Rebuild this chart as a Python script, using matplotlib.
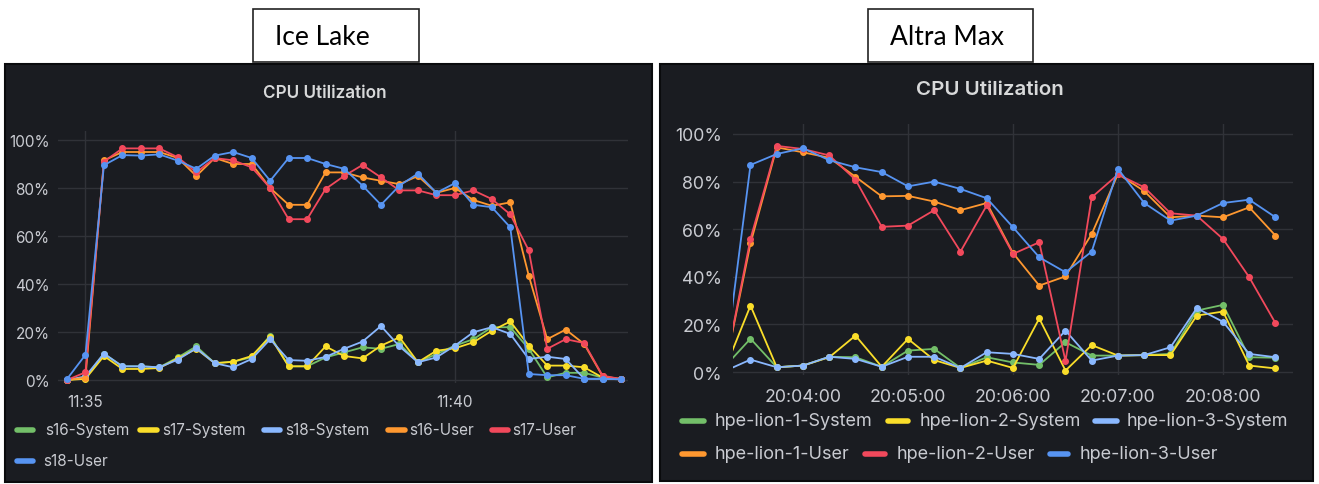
import matplotlib
matplotlib.use("Agg")
import matplotlib.pyplot as plt
import matplotlib.dates as mdates
from matplotlib.patches import Rectangle
from matplotlib.lines import Line2D
import pandas as pd

W, H = 1319, 485

# ---- Ice Lake (15 s samples from 11:34:45) ----
ice_times = pd.date_range("2023-01-01 11:34:45", periods=31, freq="15s")
ice_s16_sys = [0, 1, 11, 5.7, 5.7, 5.3, 9.4, 14, 7, 7.6, 9.5, 18.5, 5.7, 5.7, 9.4, 11.5,
               13.6, 13, 15, 7.4, 10.8, 14.3, 17, 22, 22, 13, 1.1, 3, 3, 1, 0.3]
ice_s17_sys = [0, 0.5, 10, 4.6, 4.6, 5, 9, 13, 7, 7.6, 10, 18, 5.7, 5.7, 14, 10,
               9, 14.3, 17.8, 7.4, 12.2, 13.2, 15.7, 20.5, 24.4, 14.3, 6, 6, 5.3, 1, 0.4]
ice_s18_sys = [0, 1.5, 11, 5.7, 5.7, 5.3, 8.5, 13.2, 7, 5.3, 8.75, 17, 8.3, 8, 9.6, 13,
               16, 22.5, 14, 7.4, 9.4, 14.3, 19.9, 22, 19.2, 8.75, 9.7, 8.75, 0.5, 0.5, 0.3]
ice_s16_usr = [0, 1, 91.5, 95, 95, 95, 92.5, 85, 92.5, 90, 90, 80, 73, 73, 86.5, 86.5,
               84.4, 83, 81.6, 85, 78, 80, 75, 72.6, 74, 43.5, 17, 21, 15, 1.5, 0.4]
ice_s17_usr = [0, 3.2, 91, 96.5, 96.5, 96.5, 92.8, 86.5, 92.5, 91.5, 88.6, 80, 67, 67, 79.6, 85,
               89.6, 84.4, 79, 79, 77, 77, 79, 75.4, 69, 54, 13, 17, 15.4, 1.8, 0.4]
ice_s18_usr = [0.4, 10.5, 89.5, 93.7, 93.5, 94, 91.4, 88, 93.5, 95, 92.5, 83, 92.5, 92.5, 90, 88,
               81, 73, 81, 86, 78, 82, 73, 72, 63.6, 2.5, 2, 2, 0.5, 0.5, 0.3]
ice_names = ["s16-System", "s17-System", "s18-System", "s16-User", "s17-User", "s18-User"]
ice_ticks = ["2023-01-01 11:35", "2023-01-01 11:40"]

# ---- Altra Max (15 s samples from 20:03:15) ----
alt_times = pd.date_range("2023-01-01 20:03:15", periods=22, freq="15s")
alt_l1_sys = [2, 14, 2, 2.7, 6.4, 6.2, 2.2, 9, 9.7, 1.7, 6.2, 4, 3, 12.5, 6.9, 6.9,
              7.1, 7.6, 25.8, 28.2, 6.2, 6]
alt_l2_sys = [0.5, 27.9, 2, 2.7, 6.2, 15.3, 2.2, 13.9, 5, 1.7, 4.8, 1.7, 22.5, 0.6, 11.3, 6.9,
              7.1, 7.1, 23.7, 25.4, 2.7, 1.5]
alt_l3_sys = [0.3, 5.2, 2, 2.7, 6.4, 5.5, 2.2, 6.4, 6.4, 1.7, 8.3, 7.6, 5.5, 17.4, 4.8, 6.9,
              7.1, 10.4, 26.8, 21.1, 7.6, 6.2]
alt_l1_usr = [0, 54, 94.4, 92.3, 90, 82, 73.8, 74, 71.6, 68, 71, 50, 36.3, 40.2, 58, 83.2,
              76, 65, 65.7, 65, 69.2, 57.3]
alt_l2_usr = [0, 56, 95, 93.7, 91, 80.8, 61, 61.5, 68, 50.6, 70, 49.6, 54.5, 4.6, 73.4, 83,
              77.6, 66.7, 65.7, 55.9, 39.8, 20.5]
alt_l3_usr = [1, 87, 91.6, 94, 89, 86, 84, 78, 80, 76.9, 73, 60.8, 48.2, 41.9, 50.6, 85.3,
              71, 63.6, 65.7, 71, 72.4, 65]
alt_names = ["hpe-lion-1-System", "hpe-lion-2-System", "hpe-lion-3-System",
             "hpe-lion-1-User", "hpe-lion-2-User", "hpe-lion-3-User"]
alt_ticks = ["2023-01-01 20:04", "2023-01-01 20:05", "2023-01-01 20:06",
             "2023-01-01 20:07", "2023-01-01 20:08"]

COLORS = ["#73BF69", "#FADE2A", "#8AB8FF", "#FF9830", "#F2495C", "#5794F2"]
PANEL_BG = "#1a1c21"
GRID = "#303238"
TICK = "#c9cbd1"
FONT = "Inter"

fig = plt.figure(figsize=(W / 100, H / 100), dpi=100, facecolor="white")


def fbox(x0, y0, x1, y1):
    # pixel box (top-left origin) -> figure fraction rect
    return [x0 / W, 1 - y1 / H, (x1 - x0) / W, (y1 - y0) / H]


def fx(x):
    return x / W


def fy(y):
    return 1 - y / H


# dark panels
for x0, y0, x1, y1 in [(5, 65, 652, 483), (660, 65, 1313, 482)]:
    l, b, w, h = fbox(x0, y0, x1, y1)
    fig.patches.append(Rectangle((l, b), w, h, transform=fig.transFigure,
                                 facecolor=PANEL_BG, edgecolor="#0a0b0d", lw=1.5, zorder=-5))

# white label boxes
for x0, x1, label, cx in [(253, 419, "Ice Lake", 322), (868, 1033, "Altra Max", 947)]:
    l, b, w, h = fbox(x0, 10, x1, 63)
    fig.patches.append(Rectangle((l, b), w, h, transform=fig.transFigure,
                                 facecolor="white", edgecolor="#222222", lw=1.2, zorder=-4))
    fig.text(fx(cx), fy(38), label, ha="center", va="center", fontsize=19,
             family="Lato", color="black")


def panel(box, times, series, ylim, xlim, ticks, fmt, fs, pad_y, pad_x):
    ax = fig.add_axes(box)
    ax.set_facecolor("none")
    for vals, c in zip(series, COLORS):
        ax.plot(times, vals, color=c, lw=1.3, marker="o", ms=4, zorder=3)
    ax.set_ylim(*ylim)
    ax.set_xlim(mdates.date2num(pd.Timestamp(xlim[0])), mdates.date2num(pd.Timestamp(xlim[1])))
    ax.set_yticks(range(0, 101, 20))
    ax.set_yticklabels([f"{v}%" for v in range(0, 101, 20)])
    ax.set_xticks([mdates.date2num(pd.Timestamp(t)) for t in ticks])
    ax.xaxis.set_major_formatter(mdates.DateFormatter(fmt))
    ax.grid(True, color=GRID, lw=1, zorder=0)
    ax.set_axisbelow(True)
    for s in ax.spines.values():
        s.set_visible(False)
    ax.tick_params(length=0, colors=TICK, labelsize=fs)
    ax.tick_params(axis="y", pad=pad_y)
    ax.tick_params(axis="x", pad=pad_x)
    for t in ax.get_xticklabels() + ax.get_yticklabels():
        t.set_family(FONT)
    return ax


ice_ax = panel(fbox(58, 132, 628, 384), ice_times,
               [ice_s16_sys, ice_s17_sys, ice_s18_sys, ice_s16_usr, ice_s17_usr, ice_s18_usr],
               (-1.25, 103.75), ("2023-01-01 11:34:37.7", "2023-01-01 11:42:20.6"),
               ice_ticks, "%H:%M", 11, 6, 8)
alt_ax = panel(fbox(733, 125, 1293, 376), alt_times,
               [alt_l1_sys, alt_l2_sys, alt_l3_sys, alt_l1_usr, alt_l2_usr, alt_l3_usr],
               (-1.26, 104.2), ("2023-01-01 20:03:20", "2023-01-01 20:08:40"),
               alt_ticks, "%H:%M:%S", 12.8, 8, 9.5)

# panel titles
fig.text(fx(325), fy(94), "CPU Utilization", ha="center", va="center", fontsize=12.3,
         family=FONT, fontweight="semibold", color="#d8d9da")
fig.text(fx(990), fy(90), "CPU Utilization", ha="center", va="center", fontsize=14.8,
         family=FONT, fontweight="semibold", color="#d8d9da")

# legends: (marker x0, marker x1, text x, y)
ice_legend = [(17, 33, 45, 431), (140, 157, 162, 431), (264, 280, 285, 431),
              (388, 405, 409, 431), (492, 508, 512, 431), (17, 33, 43, 462)]
alt_legend = [(682, 704, 715, 422), (888, 908, 920, 422), (1095, 1117, 1127, 422),
              (682, 704, 715, 455), (865, 885, 897, 455), (1050, 1068, 1080, 455)]

for names, spots, fs in [(ice_names, ice_legend, 11), (alt_names, alt_legend, 13)]:
    for name, c, (m0, m1, tx, y) in zip(names, COLORS, spots):
        fig.add_artist(Line2D([fx(m0), fx(m1)], [fy(y), fy(y)], transform=fig.transFigure,
                              color=c, lw=4, solid_capstyle="round"))
        fig.text(fx(tx), fy(y), name, ha="left", va="center", fontsize=fs,
                 family=FONT, color=TICK)

fig.savefig("out.png", dpi=100, facecolor="white")
